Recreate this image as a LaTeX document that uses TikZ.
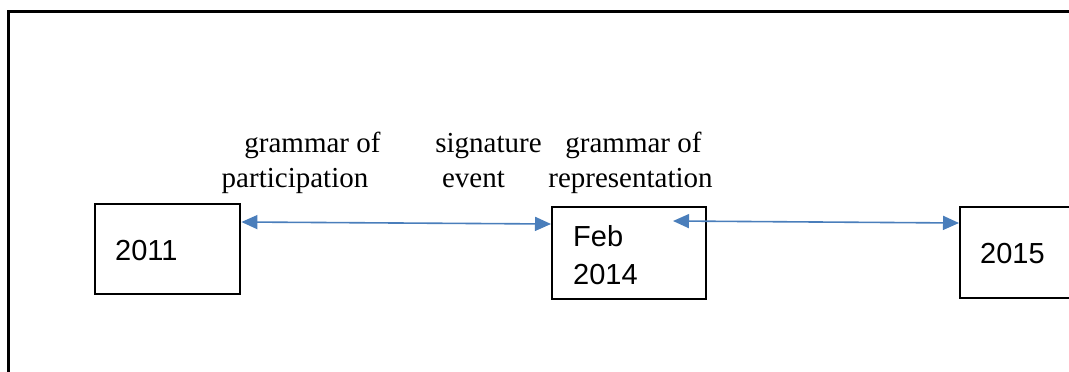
\documentclass[tikz,border=0pt]{standalone}
\usepackage{fontspec}
\setmainfont{Liberation Serif}
\newfontfamily\boxfont{Liberation Sans}
\usetikzlibrary{arrows.meta}
\definecolor{arrowblue}{HTML}{4A7EBB}
\tikzset{
  datebox/.style={draw=black, line width=2.4pt, minimum width=#1, minimum height=90pt, inner sep=0pt, anchor=north west},
  datetext/.style={font=\boxfont\fontsize{29}{35}\selectfont, inner sep=0pt, anchor=base west},
  label/.style={font=\fontsize{29}{35}\selectfont, inner sep=0pt, anchor=base},
  link/.style={draw=arrowblue, line width=1.6pt, {Triangle[length=16pt,width=14pt]}-{Triangle[length=16pt,width=14pt]}}
}
\begin{document}
\begin{tikzpicture}[x=1pt, y=-1pt]
\useasboundingbox (0,0) rectangle (1069,372);
\clip (0,0) rectangle (1069,372);
% outer frame
\draw[line width=3pt] (8,11) rectangle (1100,400);
% boxes
\node[datebox=145pt] (b1) at (94,203) {};
\node[datebox=154pt, minimum height=92pt] (b2) at (551,206) {};
\node[datebox=150pt, minimum height=91pt] (b3) at (959,206) {};
% box texts
\node[datetext] (t1) at (115,260) {2011};
\node[datetext] (t2a) at (573,246) {Feb};
\node[datetext] (t2b) at (573,284) {2014};
\node[datetext] (t3) at (980,263) {2015};
% labels
\node[label] (l1a) at (312.5,152) {grammar of};
\node[label] (l1b) at (295,187) {participation};
\node[label] (l2a) at (488.5,152) {signature};
\node[label] (l2b) at (473.5,187) {event};
\node[label] (l3a) at (633.5,152) {grammar of};
\node[label] (l3b) at (630.5,187) {representation};
% connectors
\coordinate (c1) at (b1.north east |- 0,222);
\coordinate (c2) at (b2.north west |- 0,224);
\coordinate (c3) at (673,221);
\coordinate (c4) at (b3.north west |- 0,223);
\draw[link] (c1) -- (c2);
\draw[link] (c3) -- (c4);
\end{tikzpicture}
\end{document}
